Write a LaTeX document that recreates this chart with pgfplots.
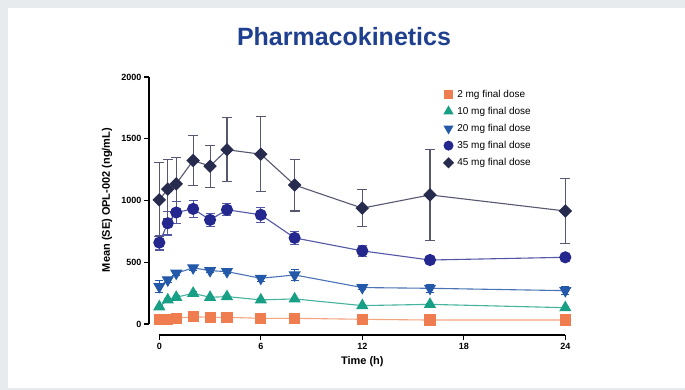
\documentclass[border=0pt]{standalone}
\usepackage{pgfplots}
\pgfplotsset{compat=1.18}
\usepackage{fontspec}
\setmainfont{Liberation Sans}
\definecolor{cOr}{HTML}{EF7D50}
\definecolor{cOrL}{HTML}{F5A482}
\definecolor{cTe}{HTML}{17A085}
\definecolor{cTeL}{HTML}{45B39D}
\definecolor{cBl}{HTML}{2458A8}
\definecolor{cBlL}{HTML}{4A74B6}
\definecolor{cNv}{HTML}{23278E}
\definecolor{cNvL}{HTML}{5257A6}
\definecolor{cDk}{HTML}{272B4E}
\definecolor{cDkL}{HTML}{565870}
\definecolor{cTitle}{HTML}{1F3F8F}
\definecolor{cFrame}{HTML}{E8EBED}
\begin{document}
\begin{tikzpicture}[x=1pt,y=1pt]
\path[use as bounding box] (0,0) rectangle (685,390);
\fill[cFrame] (0,0) rectangle (685,390);
\fill[white] (8,2) rectangle (685,382);
\node[font=\fontsize{25}{30}\selectfont\bfseries, text=cTitle] at (344,353) {Pharmacokinetics};
\begin{axis}[
  at={(149pt,66pt)}, anchor=south west,
  scale only axis, width=416.3pt, height=247pt,
  xmin=-0.61, xmax=24, ymin=0, ymax=2000,
  axis y line*=left, axis x line=none,
  clip=false,
  ytick={0,500,1000,1500,2000},
  tick align=outside, major tick length=5pt,
  every tick/.style={black, line width=1.2pt},
  axis line style={black, line width=1.3pt},
  /pgf/number format/assume math mode=true,
  /pgf/number format/1000 sep={},
  yticklabel style={font=\fontsize{9}{10}\selectfont\bfseries, xshift=1pt},
  ylabel={Mean (SE) OPL-002 (ng/mL)},
  every axis y label/.style={at={(axis description cs:-0.101,0.502)}, rotate=90, anchor=center, font=\fontsize{11}{13}\selectfont\bfseries},
  error bars/y dir=both, error bars/y explicit, error bars/error mark=-,
  legend style={draw=none, fill=none, at={(axis description cs:0.704,0.957)}, anchor=north west, inner sep=0pt,
    font=\fontsize{10}{12}\selectfont, row sep=4.4pt, cells={anchor=west}},
  legend image code/.code={\path (0cm,0cm) (0.42cm,0cm); \draw[#1, every mark/.append style={scale=0.8}] plot coordinates {(0.2cm,0cm)};},
]
% 2 mg
\addplot[color=cOrL, line width=1.1pt, mark=square*, mark size=5pt, mark options={fill=cOr, draw=cOr},
  error bars/error bar style={cOrL, line width=1pt}, error bars/error mark options={rotate=90, cOrL, mark size=3.5pt, line width=1pt}]
coordinates {(0,38) +- (0,4) (0.5,38) +- (0,4) (1,46) +- (0,5) (2,59) +- (0,6) (3,54) +- (0,5) (4,54) +- (0,5) (6,46) +- (0,4) (8,46) +- (0,4) (12,38) +- (0,4) (16,32) +- (0,3) (24,32) +- (0,3)};
\addlegendentry{2 mg final dose}
% 10 mg
\addplot[color=cTeL, line width=1.1pt, mark=triangle*, mark size=6pt, mark options={fill=cTe, draw=cTe},
  error bars/error bar style={cTe, line width=1pt}, error bars/error mark options={rotate=90, cTe, mark size=3.5pt, line width=1pt}]
coordinates {(0,140) +- (0,10) (0.5,195) +- (0,10) (1,216) +- (0,12) (2,249) +- (0,14) (3,216) +- (0,10) (4,222) +- (0,10) (6,195) +- (0,10) (8,203) +- (0,12) (12,149) +- (0,8) (16,159) +- (0,10) (24,132) +- (0,8)};
\addlegendentry{10 mg final dose}
% 20 mg
\addplot[color=cBlL, line width=1.1pt, mark=triangle*, mark size=6pt, mark options={fill=cBl, draw=cBl, rotate=180},
  error bars/error bar style={cBl, line width=1pt}, error bars/error mark options={rotate=90, cBl, mark size=4pt, line width=1pt}]
coordinates {(0,303) +- (0,50) (0.5,357) +- (0,20) (1,411) +- (0,20) (2,455) +- (0,20) (3,432) +- (0,18) (4,424) +- (0,15) (6,370) +- (0,22) (8,397) +- (0,45) (12,295) +- (0,15) (16,289) +- (0,32) (24,270) +- (0,35)};
\addlegendentry{20 mg final dose}
% 35 mg
\addplot[color=cNvL, line width=1.1pt, mark=*, mark size=5.5pt, mark options={fill=cNv, draw=cNv},
  error bars/error bar style={cNvL, line width=1.1pt}, error bars/error mark options={rotate=90, cNvL, mark size=4.5pt, line width=1.1pt}]
coordinates {(0,659) +- (0,60) (0.5,816) +- (0,95) (1,903) +- (0,90) (2,932) +- (0,70) (3,843) +- (0,50) (4,925) +- (0,50) (6,884) +- (0,60) (8,697) +- (0,50) (12,592) +- (0,45) (16,518) +- (0,18) (24,540) +- (0,18)};
\addlegendentry{35 mg final dose}
% 45 mg
\addplot[color=cDkL, line width=1.1pt, mark=square*, mark size=4.2pt, mark options={fill=cDk, draw=cDk, rotate=45},
  error bars/error bar style={cDkL, line width=1.1pt}, error bars/error mark options={rotate=90, cDkL, mark size=5pt, line width=1.1pt}]
coordinates {(0,1005) +- (0,300) (0.5,1092) +- (0,240) (1,1135) +- (0,210) (2,1324) +- (0,200) (3,1278) +- (0,170) (4,1411) +- (0,260) (6,1375) +- (0,305) (8,1125) +- (0,210) (12,938) +- (0,150) (16,1045) +- (0,370) (24,915) +- (0,265)};
\addlegendentry{45 mg final dose}
\end{axis}
\begin{axis}[
  at={(159.3pt,55pt)}, anchor=south west,
  scale only axis, width=406pt, height=10pt,
  xmin=0, xmax=24, ymin=0, ymax=1,
  axis x line*=bottom, axis y line=none,
  xtick={0,6,12,18,24},
  tick align=outside, major tick length=5pt,
  every tick/.style={black, line width=1.2pt},
  axis line style={black, line width=1.3pt},
  /pgf/number format/assume math mode=true,
  xticklabel style={font=\fontsize{9}{10}\selectfont\bfseries},
  xlabel={Time (h)},
  every axis x label/.style={at={(axis description cs:0.5,0)}, yshift=-27pt, anchor=center, font=\fontsize{11}{13}\selectfont\bfseries},
]
\end{axis}
\end{tikzpicture}
\end{document}
